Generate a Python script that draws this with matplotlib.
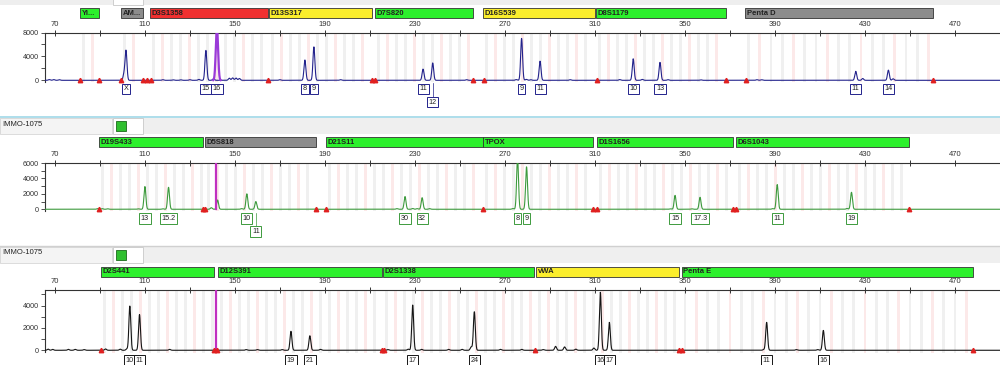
import numpy as np
import matplotlib
matplotlib.use('Agg')
import matplotlib.pyplot as plt
from matplotlib.patches import Rectangle
from matplotlib.transforms import blended_transform_factory as blend

plt.rcParams['font.family'] = ['Liberation Sans', 'DejaVu Sans']

sample_name = "IMMO-1075"
x_ticks = [70, 110, 150, 190, 230, 270, 310, 350, 390, 430, 470]

# ---------- Panel 1 (blue dye) ----------
p1_markers = ["Yi...", "AM...", "D3S1358", "D13S317", "D7S820", "D16S539", "D8S1179", "Penta D"]
p1_starts = [81.1, 99.3, 112.2, 165.1, 212.2, 260.2, 310.4, 376.7]
p1_ends = [89.6, 109.1, 164.7, 210.9, 255.8, 310.0, 368.2, 460.2]
p1_mcolors = ["g", "k", "r", "y", "g", "y", "g", "k"]
p1_peak_bp = [101.6, 137.1, 181.1, 185.1, 233.6, 237.9, 277.4, 285.6, 327.0, 338.9, 425.9, 440.4]
p1_peak_h = [4950, 5000, 3400, 5600, 1870, 2900, 7000, 3200, 3600, 3000, 1500, 1700]
p1_labels = ["X", "15", "16", "8", "9", "11", "12", "9", "11", "10", "13", "11", "14"]
p1_label_bp = [101.6, 137.1, 142.0, 181.1, 185.1, 233.6, 237.9, 277.4, 285.6, 327.0, 338.9, 425.9, 440.4]
p1_label_row = [0, 0, 0, 0, 0, 0, 1, 0, 0, 0, 0, 0, 0]
p1_offscale_bp = [142.0]
p1_offscale_h = [9000]
p1_noise_bp = [67.5, 69.5, 72.0, 100.7, 118.0, 122.5, 126.0, 130.0, 134.0, 140.5, 147.5, 149.0, 150.5, 152.0, 170.0, 197.0, 253.0, 275.0, 279.5, 281.5, 299.0, 321.0, 331.0, 342.5, 357.0, 382.0, 384.0, 429.0, 442.5]
p1_noise_h = [120, 120, 100, 1000, 100, 80, 80, 100, 150, 250, 350, 400, 380, 300, 100, 100, 100, 120, 150, 100, 100, 120, 150, 100, 80, 100, 100, 300, 250]
p1_red_bp = [81.1, 89.6, 99.3, 109.1, 111.0, 112.8, 164.9, 210.9, 212.2, 255.8, 260.6, 310.8, 368.2, 377.0, 460.2]

# ---------- Panel 2 (green dye) ----------
p2_markers = ["D19S433", "D5S818", "D21S11", "TPOX", "D1S1656", "D6S1043"]
p2_starts = [89.6, 136.7, 190.4, 260.4, 310.9, 372.7]
p2_ends = [135.8, 186.0, 260.2, 309.1, 371.3, 449.6]
p2_mcolors = ["g", "k", "g", "g", "g", "g"]
p2_peak_bp = [110.0, 120.5, 155.3, 159.3, 225.6, 233.2, 275.6, 279.6, 345.6, 356.7, 391.0, 424.0]
p2_peak_h = [2950, 2850, 2000, 1000, 1650, 1500, 6600, 5500, 1800, 1550, 3200, 2200]
p2_labels = ["13", "15.2", "10", "11", "30", "32", "8", "9", "15", "17.3", "11", "19"]
p2_label_row = [0, 0, 0, 1, 0, 0, 0, 0, 0, 0, 0, 0]
p2_noise_bp = [89.0, 91.0, 93.5, 107.0, 118.0, 136.5, 139.5, 142.3, 153.0, 186.0, 222.0, 229.0, 231.0, 236.5, 273.5, 343.5, 353.0, 389.0, 422.0]
p2_noise_h = [80, 80, 60, 60, 60, 120, 200, 1200, 80, 60, 80, 100, 80, 80, 100, 60, 60, 80, 100]
p2_red_bp = [89.6, 135.6, 136.6, 186.0, 190.4, 260.3, 309.1, 310.9, 371.3, 372.7, 449.6]

# ---------- Panel 3 (black/yellow dye) ----------
p3_markers = ["D2S441", "D12S391", "D2S1338", "vWA", "Penta E"]
p3_starts = [90.4, 142.4, 215.8, 283.8, 348.5]
p3_ends = [140.7, 215.2, 283.0, 347.3, 477.9]
p3_mcolors = ["g", "g", "g", "y", "g"]
p3_peak_bp = [103.3, 107.6, 174.9, 183.3, 229.0, 256.4, 312.4, 316.4, 386.3, 411.5]
p3_peak_h = [3960, 3200, 1700, 1300, 4050, 3450, 5200, 2500, 2500, 1780]
p3_labels = ["10", "11", "19", "21", "17", "24", "16", "17", "11", "16"]
p3_noise_bp = [67.0, 69.0, 76.0, 79.0, 83.0, 92.5, 99.0, 102.0, 121.0, 155.0, 160.0, 171.0, 188.0, 218.0, 227.0, 233.0, 245.0, 251.0, 255.0, 268.0, 277.5, 287.0, 292.5, 296.5, 301.5, 309.5, 385.0, 399.5, 409.0]
p3_noise_h = [100, 80, 80, 80, 60, 120, 100, 120, 80, 60, 60, 60, 80, 60, 100, 80, 80, 80, 300, 80, 80, 60, 350, 300, 100, 200, 60, 60, 60]
p3_red_bp = [90.4, 140.7, 141.9, 215.2, 216.2, 283.4, 347.3, 348.5, 477.9]

spike_bp = 141.6

BAR_COLORS = {"g": "#2cf02c", "k": "#8c8c8c", "r": "#f03030", "y": "#fbee2c"}

fig = plt.figure(figsize=(10, 3.65), dpi=100)
bg = fig.add_axes([0, 0, 1, 1], zorder=0)
bg.set_xlim(0, 1000)
bg.set_ylim(365, 0)
bg.axis('off')

# header decorations (pixel space)
bg.add_patch(Rectangle((0, 0), 1000, 5, fc='#eeeeee', ec='none'))
bg.add_patch(Rectangle((113, -2), 30, 7, fc='white', ec='#c8c8c8', lw=0.6))
bg.plot([0, 1000], [117, 117], color='#9fd8e8', lw=1.2)
bg.plot([0, 1000], [246, 246], color='#d0d0d0', lw=1.0)
for top in (118, 247):
    bg.add_patch(Rectangle((0, top), 1000, 16, fc='#efefef', ec='none'))
    bg.add_patch(Rectangle((0, top), 112, 16, fc='#f4f4f4', ec='#d0d0d0', lw=0.5))
    bg.add_patch(Rectangle((113, top), 30, 16, fc='white', ec='#c8c8c8', lw=0.6))
    bg.add_patch(Rectangle((116, top + 3), 10, 10, fc='#2fbf2f', ec='#1a6a1a', lw=0.6))
    bg.text(2, top + 6, sample_name, fontsize=5.5, va='center', ha='left', color='#222222')

bin_colors = ['#f0f0f0', '#fce9e9']


def panel(bottom_px, top_px, ymax, yticks, yminor, color, markers, starts, ends, mcolors,
          peak_bp, peak_h, labels, label_bp, label_rows, noise_bp, noise_h, red_bp,
          bar_top, label_y, offscale=None, spike=False):
    ylo = -200
    ax = fig.add_axes([0.045, 1 - bottom_px / 365, 0.955, (bottom_px - top_px) / 365], zorder=2)
    ax.patch.set_alpha(0)
    ax.set_xlim(65.6, 490)
    ax.set_ylim(ylo, ymax)
    tr = blend(ax.transData, bg.transData)
    # bins
    for s, e, m in zip(starts, ends, markers):
        step = 5 if m.startswith('Penta') else 4
        for i, b in enumerate(np.arange(s + 1.5, e - 0.5, step)):
            ax.axvspan(b - 0.6, b + 0.6, color=bin_colors[i % 3 == 1], lw=0, zorder=0)
    # marker bars
    for m, s, e, c in zip(markers, starts, ends, mcolors):
        ax.add_patch(Rectangle((s, bar_top), e - s, 10, transform=tr, fc=BAR_COLORS[c],
                               ec='#333333', lw=0.6, clip_on=False, zorder=3))
        ax.text(s + 0.8, bar_top + 5.3, m, transform=tr, fontsize=5.5, fontweight='bold',
                va='center', ha='left', color='#222222', clip_on=False, zorder=4)
    # trace
    x = np.linspace(65.6, 490, 12000)
    y = np.zeros_like(x)
    for b, h in zip(list(peak_bp) + list(noise_bp), list(peak_h) + list(noise_h)):
        y += h * np.exp(-0.5 * ((x - b) / 0.42) ** 2)
    ax.plot(x, y, color=color, lw=0.8, zorder=5)
    if offscale is not None:
        yo = np.zeros_like(x)
        for b, h in zip(*offscale):
            yo += h * np.exp(-0.5 * ((x - b) / 0.5) ** 2)
        ax.plot(x, np.where(yo > 30, yo, np.nan), color='#9a3ad8', lw=1.6, zorder=6)
    if spike:
        ax.plot([spike_bp, spike_bp], [0, ymax], color='#c030c0', lw=1.6, zorder=6)
    # red markers
    ax.plot(red_bp, [60] * len(red_bp), ls='none', marker='^', ms=3.2, color='#e02020',
            zorder=7, clip_on=False)
    # labels
    for lb, bp, r in zip(labels, label_bp, label_rows):
        yy = label_y[r]
        if r == 1:
            ax.plot([bp, bp], [label_y[0] - 6, yy - 5], transform=tr, color=color, lw=0.5,
                    clip_on=False)
        ax.text(bp, yy, lb, transform=tr, fontsize=5.2, ha='center', va='center', color='#222222',
                clip_on=False, zorder=8,
                bbox=dict(boxstyle='square,pad=0.22', fc='white', ec=color, lw=0.7))
    # axes styling
    for sp in ('right', 'bottom'):
        ax.spines[sp].set_visible(False)
    for sp in ('left', 'top'):
        ax.spines[sp].set_linewidth(0.8)
        ax.spines[sp].set_color('#333333')
    ax.xaxis.tick_top()
    ax.set_xticks(x_ticks)
    ax.set_xticklabels([str(t) for t in x_ticks])
    ax.set_xticks(np.arange(90, 490, 40), minor=True)
    ax.tick_params(axis='x', which='both', direction='inout', length=4, width=0.7,
                   labelsize=5.5, pad=1.5, colors='#333333')
    ax.set_yticks(yticks)
    ax.set_yticklabels([str(t) for t in yticks])
    ax.set_yticks(yminor, minor=True)
    ax.tick_params(axis='y', which='both', direction='out', length=3, width=0.6,
                   labelsize=5.2, pad=1.5, colors='#333333')
    return ax


panel(81.5, 32.5, 8000, [0, 4000, 8000], [2000, 6000], '#23238c',
      p1_markers, p1_starts, p1_ends, p1_mcolors, p1_peak_bp, p1_peak_h,
      p1_labels, p1_label_bp, p1_label_row, p1_noise_bp, p1_noise_h, p1_red_bp,
      bar_top=8, label_y=[89, 102], offscale=(p1_offscale_bp, p1_offscale_h))

panel(210.8, 163, 6000, [0, 2000, 4000, 6000], [1000, 3000, 5000], '#3d9a3d',
      p2_markers, p2_starts, p2_ends, p2_mcolors, p2_peak_bp, p2_peak_h,
      p2_labels, p2_peak_bp, p2_label_row, p2_noise_bp, p2_noise_h, p2_red_bp,
      bar_top=137, label_y=[218.5, 231.5], spike=True)

panel(352.5, 290, 5400, [0, 2000, 4000], [1000, 3000, 5000], '#151515',
      p3_markers, p3_starts, p3_ends, p3_mcolors, p3_peak_bp, p3_peak_h,
      p3_labels, p3_peak_bp, [0] * len(p3_labels), p3_noise_bp, p3_noise_h, p3_red_bp,
      bar_top=266.5, label_y=[360, 373], spike=True)

fig.savefig('out.png', dpi=100)
